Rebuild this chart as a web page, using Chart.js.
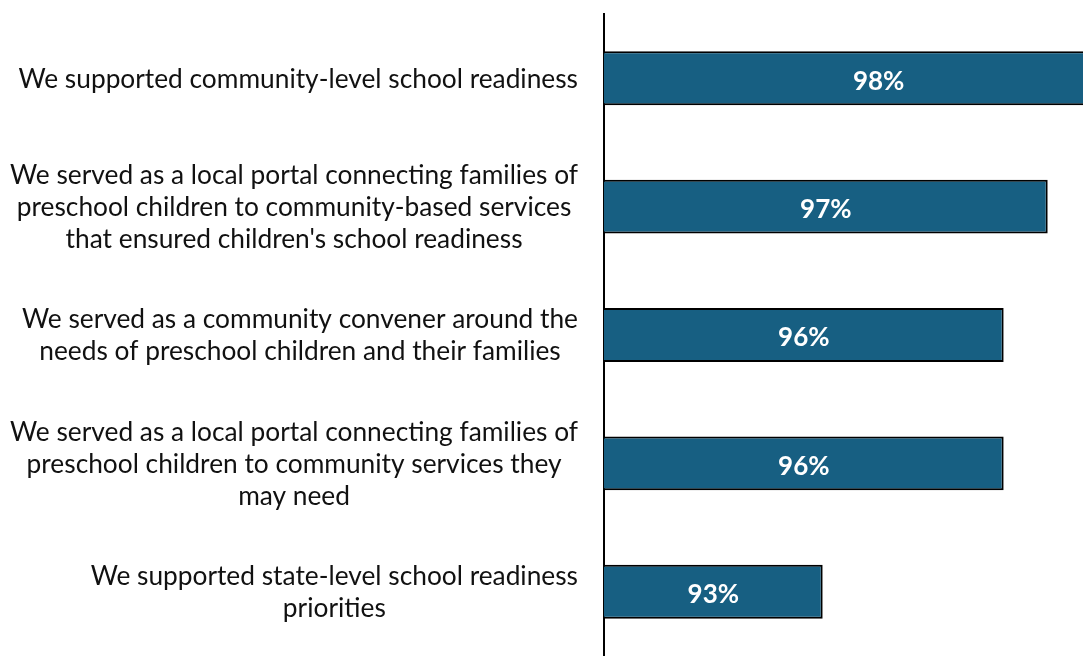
<!DOCTYPE html>
<html>
<head>
<meta charset="utf-8">
<script src="https://cdn.jsdelivr.net/npm/chart.js@4/dist/chart.umd.min.js"></script>
<style>
  html, body { margin: 0; padding: 0; background: #ffffff; }
  #wrap { width: 1083px; height: 656px; }
</style>
</head>
<body>
<div id="wrap"><canvas id="c" width="1083" height="656"></canvas></div>
<script>
const categories = [
  ["We supported community-level school readiness"],
  ["We served as a local portal connecting families of", "preschool children to community-based services", "that ensured children's school readiness"],
  ["We served as a community convener around the", "needs of preschool children and their families"],
  ["We served as a local portal connecting families of", "preschool children to community services they", "may need"],
  ["We supported state-level school readiness", "priorities"]
];
const values = [98.48, 96.73, 96.0, 96.0, 93.0];
const valueLabels = ["98%", "97%", "96%", "96%", "93%"];

const FONT = "Lato, 'Open Sans', sans-serif";

const labelPlugin = {
  id: 'allLabels',
  afterDraw(chart) {
    const ctx = chart.ctx;
    const ys = chart.scales.y;
    const xs = chart.scales.x;
    ctx.save();
    // category labels, block right-aligned, lines centered
    ctx.font = "26.3px " + FONT;
    ctx.fillStyle = "#111111";
    ctx.textAlign = "center";
    ctx.textBaseline = "middle";
    const lineH = 32;
    const rightEdge = ys.right - 26;
    categories.forEach((lines, i) => {
      const cy = ys.getPixelForTick(i) + 1;
      const w = Math.max(...lines.map(l => ctx.measureText(l).width));
      const cx = rightEdge - w / 2;
      const startY = cy - (lines.length - 1) * lineH / 2;
      lines.forEach((l, j) => ctx.fillText(l, cx, startY + j * lineH));
    });
    // value labels centered in bars
    ctx.font = "bold 26px " + FONT;
    ctx.fillStyle = "#ffffff";
    const left = chart.chartArea.left;
    values.forEach((v, i) => {
      const end = xs.getPixelForValue(v);
      const cx = (end + left) / 2;
      const cy = ys.getPixelForTick(i) + 3;
      ctx.fillText(valueLabels[i], cx, cy);
    });
    ctx.restore();
  }
};

new Chart(document.getElementById('c'), {
  type: 'bar',
  data: {
    labels: categories,
    datasets: [{
      data: values,
      backgroundColor: '#175F82',
      borderColor: '#000000',
      borderWidth: 2,
      borderSkipped: false,
      barPercentage: 0.42,
      categoryPercentage: 1.0
    }]
  },
  options: {
    indexAxis: 'y',
    responsive: false,
    animation: false,
    layout: { padding: { top: 14, bottom: 0, left: 0, right: 0 } },
    plugins: { legend: { display: false }, tooltip: { enabled: false } },
    scales: {
      x: {
        display: false,
        min: 89.375,
        max: 97.315
      },
      y: {
        ticks: { display: false },
        grid: { display: false, drawTicks: false },
        border: { display: true, color: '#000000', width: 2 },
        afterFit(scale) { scale.width = 604; }
      }
    }
  },
  plugins: [labelPlugin]
});
</script>
</body>
</html>
